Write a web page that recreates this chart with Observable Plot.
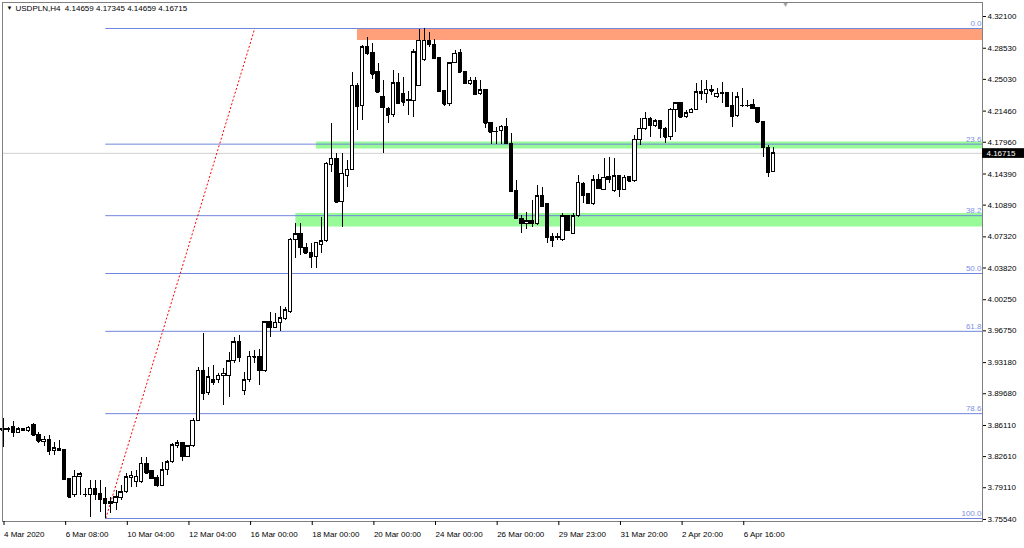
<!DOCTYPE html>
<html><head><meta charset="utf-8">
<script src="https://cdn.jsdelivr.net/npm/d3@7"></script>
<script src="https://cdn.jsdelivr.net/npm/@observablehq/plot@0.6"></script>
<style>html,body{margin:0;padding:0;background:#fff;} svg{display:block}</style>
</head><body><div id="chart"></div>
<script>
const symbolTitle = "USDPLN,H4";
const lastQuote = [4.14659, 4.17345, 4.14659, 4.16715];

const open = [3.8577,3.8555,3.8592,3.8529,3.8577,3.8551,3.8622,3.8507,3.8423,3.8450,
3.8322,3.8352,3.8338,3.8011,3.7824,3.8037,3.7824,3.7824,3.7899,3.7843,
3.7786,3.7730,3.7737,3.7797,3.7860,3.8022,3.7973,3.7973,3.8180,3.8094,
3.8022,3.7936,3.8112,3.8198,3.8378,3.8412,3.8262,3.8378,3.8667,3.9229,
3.8974,3.9117,3.9117,3.9166,3.9173,3.9334,3.9547,3.9004,3.9117,3.9386,
3.9379,3.9221,3.9772,3.9709,3.9765,3.9808,3.9885,4.0699,4.0759,4.0605,
4.0553,4.0504,4.0646,4.0683,4.1535,4.1610,4.1122,4.1422,4.1486,4.2434,
4.2198,4.2865,4.2798,4.2584,4.2310,4.2172,4.2097,4.2460,4.2333,4.2266,
4.2258,4.2434,4.2723,4.2932,4.2895,4.2746,4.2370,4.2221,4.2685,4.2798,
4.2584,4.2453,4.2490,4.2341,4.2378,4.2010,4.1909,4.1920,4.1973,4.1778,
4.1246,4.0935,4.0879,4.0916,4.0879,4.1186,4.1096,4.0736,4.0724,4.0699,
4.0961,4.0766,4.0961,4.1332,4.1216,4.1096,4.1366,4.1261,4.1403,4.1253,
4.1415,4.1261,4.1403,4.1358,4.1824,4.1947,4.2059,4.1984,4.2033,4.1947,
4.1853,4.2153,4.2235,4.2078,4.2123,4.2161,4.2359,4.2341,4.2386,4.2303,
4.2355,4.2352,4.2198,4.2086,4.2206,4.2209,4.2213,4.2179,4.2022,4.1733,
4.14659];

const high = [3.8689,3.8592,3.8659,3.8585,3.8581,3.8600,3.8630,3.8529,3.8487,3.8499,
3.8423,3.8442,3.8345,3.8018,3.8105,3.8086,3.7902,3.7992,3.7992,3.7992,
3.7910,3.7804,3.7880,3.7936,3.8068,3.8097,3.8105,3.8254,3.8247,3.8105,
3.8048,3.8198,3.8217,3.8405,3.8442,3.8423,3.8386,3.8686,3.9266,3.9649,
3.9266,3.9285,3.9192,3.9248,3.9435,3.9604,3.9623,3.9210,3.9446,3.9454,
3.9462,3.9784,3.9878,3.9867,3.9949,3.9941,4.0710,4.0879,4.0879,4.0654,
4.0654,4.0672,4.0953,4.1572,4.2003,4.1666,4.1666,4.1591,4.2584,4.2453,
4.2884,4.2977,4.2903,4.2678,4.2490,4.2190,4.2603,4.2566,4.2528,4.2370,
4.2835,4.3060,4.3075,4.3033,4.2948,4.2746,4.2378,4.2696,4.2828,4.2835,
4.2584,4.2520,4.2520,4.2490,4.2378,4.2018,4.1965,4.1984,4.2059,4.1891,
4.1366,4.0973,4.1009,4.1141,4.1310,4.1291,4.1104,4.0766,4.0766,4.0999,
4.0973,4.0992,4.1422,4.1347,4.1223,4.1422,4.1434,4.1610,4.1629,4.1610,
4.1422,4.1422,4.1411,4.1872,4.2059,4.2134,4.2078,4.2048,4.2041,4.1965,
4.2172,4.2247,4.2247,4.2153,4.2172,4.2453,4.2490,4.2490,4.2434,4.2397,
4.2471,4.2359,4.2359,4.2359,4.2397,4.2266,4.2274,4.2190,4.2022,4.1759,
4.17345];

const low = [3.8363,3.8536,3.8472,3.8518,3.8547,3.8536,3.8487,3.8412,3.8375,3.8273,
3.8273,3.8318,3.7998,3.7798,3.7805,3.7824,3.7801,3.7575,3.7767,3.7636,
3.7565,3.7618,3.7655,3.7767,3.7843,3.7917,3.7917,3.7955,3.8060,3.8000,
3.7917,3.7924,3.8048,3.8180,3.8349,3.8209,3.8254,3.8367,3.8660,3.8892,
3.8948,3.9061,3.9080,3.8836,3.8929,3.9304,3.9323,3.8948,3.9098,3.9304,
3.9061,3.9210,3.9604,3.9698,3.9670,3.9797,3.9867,4.0485,4.0522,4.0541,
4.0373,4.0373,4.0541,4.0672,4.1459,4.1122,4.0841,4.1290,4.1478,4.1928,
4.2041,4.2772,4.2498,4.2359,4.1666,4.2003,4.2078,4.2228,4.2198,4.2097,
4.2078,4.2434,4.2708,4.2865,4.2734,4.2359,4.2198,4.2198,4.2678,4.2573,
4.2445,4.2434,4.2322,4.2322,4.1947,4.1771,4.1771,4.1771,4.1771,4.1234,
4.0927,4.0766,4.0811,4.0841,4.0860,4.1066,4.0654,4.0616,4.0691,4.0683,
4.0796,4.0766,4.0954,4.1103,4.1096,4.1085,4.1261,4.1253,4.1329,4.1234,
4.1178,4.1253,4.1347,4.1347,4.1759,4.1928,4.1846,4.1965,4.1835,4.1778,
4.1816,4.1909,4.2059,4.2059,4.2116,4.2153,4.2266,4.2228,4.2322,4.2284,
4.2228,4.2190,4.1965,4.2078,4.2190,4.2190,4.2161,4.2022,4.1628,4.1403,
4.14659];

const close = [3.8555,3.8574,3.8529,3.8570,3.8555,3.8585,3.8499,3.8431,3.8450,3.8322,
3.8356,3.8330,3.8004,3.7805,3.8037,3.8060,3.7830,3.7899,3.7835,3.7775,
3.7730,3.7748,3.7804,3.7860,3.8029,3.8045,3.8037,3.8180,3.8075,3.8011,
3.7936,3.8105,3.8198,3.8386,3.8412,3.8262,3.8375,3.8667,3.9229,3.8974,
3.9154,3.9098,3.9173,3.9192,3.9334,3.9547,3.9379,3.9117,3.9386,3.9380,
3.9229,3.9772,3.9709,3.9765,3.9817,3.9904,4.0699,4.0759,4.0609,4.0548,
4.0504,4.0665,4.0683,4.1554,4.1610,4.1122,4.1441,4.1486,4.2434,4.2198,
4.2865,4.2791,4.2558,4.2359,4.2183,4.2097,4.2460,4.2235,4.2247,4.2262,
4.2809,4.2940,4.2940,4.2895,4.2734,4.2370,4.2221,4.2685,4.2791,4.2584,
4.2453,4.2490,4.2333,4.2378,4.2010,4.1909,4.1913,4.1973,4.1778,4.1246,
4.0935,4.0879,4.0905,4.0879,4.1186,4.1077,4.0728,4.0691,4.0731,4.0961,
4.0803,4.0961,4.1340,4.1197,4.1104,4.1366,4.1272,4.1396,4.1374,4.1415,
4.1261,4.1396,4.1358,4.1824,4.1947,4.2059,4.1984,4.2033,4.1947,4.1853,
4.2161,4.2235,4.2078,4.2123,4.2161,4.2359,4.2341,4.2386,4.2370,4.2341,
4.2341,4.2198,4.2086,4.2303,4.2209,4.2206,4.2172,4.2022,4.1733,4.1459,
4.16715];

const xTickIndex = [0,12,24,36,48,60,72,84,96,108,120,132,144];
const xTickLabels = ["4 Mar 2020","6 Mar 08:00","10 Mar 04:00","12 Mar 04:00","16 Mar 00:00",
  "18 Mar 00:00","20 Mar 00:00","24 Mar 00:00","26 Mar 00:00","29 Mar 23:00",
  "31 Mar 20:00","2 Apr 20:00","6 Apr 16:00"];
const yTickValues = [4.32100,4.28530,4.25030,4.21460,4.17960,4.14390,4.10890,4.07320,
  4.03820,4.00250,3.96750,3.93180,3.89680,3.86110,3.82610,3.79110,3.75540];

const fibLevels = [0, 23.6, 38.2, 50, 61.8, 78.6, 100];
const fibHigh = 4.3075, fibLow = 3.7565;
const fibStartBar = 20, fibTrendEndBar = 49;

const zoneStart = [69, 61, 57];
const zoneTop = [4.3069, 4.1799, 4.0995];
const zoneBottom = [4.2940, 4.1720, 4.0843];

// ---- build tables ----
const bars = open.map((o, i) => ({i, o, h: high[i], l: low[i], c: close[i]}));
const fib = fibLevels.map(l => ({l, p: fibHigh - l / 100 * (fibHigh - fibLow)}));
const zones = zoneStart.map((s, k) => ({k, s, top: zoneTop[k], bottom: zoneBottom[k]}));
const zoneColors = ["#FFA07A", "#98FB98", "#98FB98"];
const lastClose = close[close.length - 1];
const fmt5 = d3.format(".5f");

const xDomain = [-0.1, 190.67];
const yDomain = [3.75313, 4.33674];
const xEnd = xDomain[1];

const chart = Plot.plot({
  width: 1024, height: 548,
  marginLeft: 2, marginRight: 42, marginTop: 2, marginBottom: 27,
  style: {fontFamily: "'Liberation Sans', Arial, sans-serif", fontSize: "8px", background: "#fff", color: "#000", overflow: "visible"},
  x: {domain: xDomain, axis: null},
  y: {domain: yDomain, axis: null},
  marks: [
    Plot.rect(zones, {x1: "s", x2: xEnd, y1: "bottom", y2: "top", fill: d => zoneColors[d.k]}),
    Plot.ruleY([lastClose], {stroke: "#d0d0d0"}),
    Plot.ruleY(fib, {y: "p", x1: fibStartBar, x2: xEnd, stroke: "#6f86dc"}),
    Plot.link([{a: fibStartBar, b: fibLow, c: fibTrendEndBar, d: fibHigh}],
      {x1: "a", y1: "b", x2: "c", y2: "d", stroke: "#ff0000", strokeDasharray: "2,2"}),
    Plot.text(fib, {x: xEnd, y: "p", text: d => d.l.toFixed(1), textAnchor: "end", dx: -1, dy: -5, fill: "#7b8fe6"}),
    Plot.ruleX(bars, {x: "i", y1: "l", y2: "h", stroke: "#000", shapeRendering: "crispEdges"}),
    Plot.rect(bars, {x1: d => d.i - 0.33, x2: d => d.i + 0.33, y1: "o", y2: "c",
      fill: d => d.c >= d.o ? "#fff" : "#000", stroke: "#000", shapeRendering: "crispEdges"}),
    Plot.ruleY(bars, {y: "c", x1: d => d.i - 0.33, x2: d => d.i + 0.33, stroke: "#000", shapeRendering: "crispEdges"}),
    Plot.frame({stroke: "#808080"}),
    Plot.axisY({ticks: yTickValues, anchor: "right", tickFormat: fmt5, tickSize: 3, tickPadding: 2}),
    Plot.axisX({ticks: xTickIndex, anchor: "bottom", tickFormat: d => xTickLabels[xTickIndex.indexOf(d)],
      tickSize: 4, tickPadding: 6, textAnchor: "start", dx: 1}),
    Plot.rect([lastClose], {x1: xEnd, x2: xEnd + 8.3, y1: d => d - 0.0057, y2: d => d + 0.0052, fill: "#000"}),
    Plot.text([lastClose], {x: xEnd, y: d => d, text: d => fmt5(d), textAnchor: "start", dx: 4, fill: "#fff"}),
    Plot.text(["▼"], {frameAnchor: "top-left", dx: 4, dy: 6, lineAnchor: "middle", textAnchor: "start", fontSize: 6}),
    Plot.text([symbolTitle + "  " + lastQuote.map(fmt5).join(" ")],
      {frameAnchor: "top-left", dx: 13, dy: 6, lineAnchor: "middle", textAnchor: "start"}),
    Plot.text(["▼"], {frameAnchor: "top-left", dx: 783, dy: 2, lineAnchor: "middle", textAnchor: "middle", fontSize: 7, fill: "#a0a0a0"})
  ]
});
document.getElementById("chart").appendChild(chart);
</script>
</body></html>
